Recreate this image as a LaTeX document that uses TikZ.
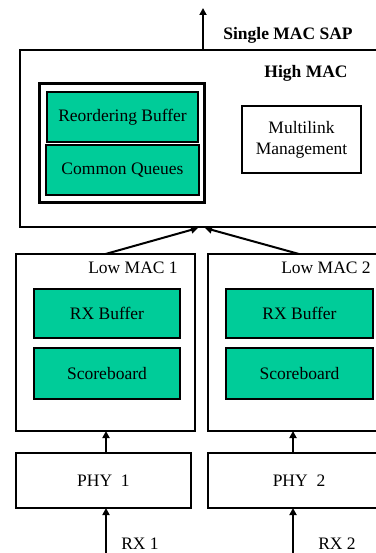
\documentclass[tikz,border=0pt]{standalone}
\usepackage{fontspec}
\setmainfont{Liberation Serif}
\usetikzlibrary{arrows.meta}
\definecolor{boxgreen}{RGB}{0,204,153}
\begin{document}
\begin{tikzpicture}[x=1pt,y=-1pt,
  every node/.style={font=\fontsize{17.5}{21}\selectfont},
  blk/.style={draw=black, line width=2pt, fill=white, inner sep=0pt, outer sep=0pt},
  gbox/.style={blk, fill=boxgreen},
  lbl/.style={inner sep=0pt},
  arr/.style={line width=2pt, -{Triangle[length=7pt,width=7pt]}}]
\useasboundingbox (0,0) rectangle (375,553);
% High MAC
\node[blk, minimum width=360pt, minimum height=177pt] (highmac) at (200,138.5) {};
\node[blk, line width=3pt, minimum width=165pt, minimum height=118pt] (cont) at (121.5,143) {};
\node[gbox, minimum width=151pt, minimum height=50pt] (reorder) at (122.5,117) {Reordering Buffer};
\node[gbox, minimum width=153pt, minimum height=50pt] (queues) at (122.5,170) {Common Queues};
\node[blk, minimum width=119pt, minimum height=67pt, align=center] (multi) at (301.5,139.5) {Multilink\\Management};
\node[lbl, font=\fontsize{17.5}{21}\selectfont\bfseries] (sap) at (288,35) {Single MAC SAP};
\node[lbl, font=\fontsize{17.5}{21}\selectfont\bfseries] (hmlbl) at (306,73) {High MAC};
% Low MACs
\node[blk, minimum width=179pt, minimum height=177pt] (low1) at (105.5,342.5) {};
\node[blk, minimum width=182pt, minimum height=177pt] (low2) at (299,342.5) {};
\node[lbl] (low1lbl) at (133,268) {Low MAC 1};
\node[lbl] (low2lbl) at (326,268) {Low MAC 2};
\node[gbox, minimum width=146pt, minimum height=49pt] (rxb1) at (107,313.5) {RX Buffer};
\node[gbox, minimum width=146pt, minimum height=51pt] (sb1) at (107,373.5) {Scoreboard};
\node[gbox, minimum width=147pt, minimum height=49pt] (rxb2) at (299.5,313.5) {RX Buffer};
\node[gbox, minimum width=147pt, minimum height=51pt] (sb2) at (299.5,373.5) {Scoreboard};
% PHYs
\node[blk, minimum width=175pt, minimum height=55pt] (phy1) at (103.5,480.5) {PHY\ \ 1};
\node[blk, minimum width=182pt, minimum height=55pt] (phy2) at (299,480.5) {PHY\ \ 2};
\node[lbl] (rx1) at (140,544) {RX 1};
\node[lbl] (rx2) at (337,544) {RX 2};
\coordinate (top) at (203,8);
\coordinate (in1) at (106,556);
\coordinate (in2) at (293,556);
% connectors
\draw[arr] ([xshift=3pt]highmac.north) -- (top);
\draw[arr] (low1.north) -- ([xshift=-2pt,yshift=-1pt]highmac.south);
\draw[arr] (low2.north) -- ([xshift=5pt,yshift=-1pt]highmac.south);
\draw[arr] ([xshift=2.5pt]phy1.north) -- ([xshift=2.5pt]phy1.north |- low1.south);
\draw[arr] ([xshift=-6pt]phy2.north) -- ([xshift=-6pt]phy2.north |- low2.south);
\draw[arr] (in1) -- (in1 |- phy1.south);
\draw[arr] (in2) -- (in2 |- phy2.south);
\end{tikzpicture}
\end{document}
